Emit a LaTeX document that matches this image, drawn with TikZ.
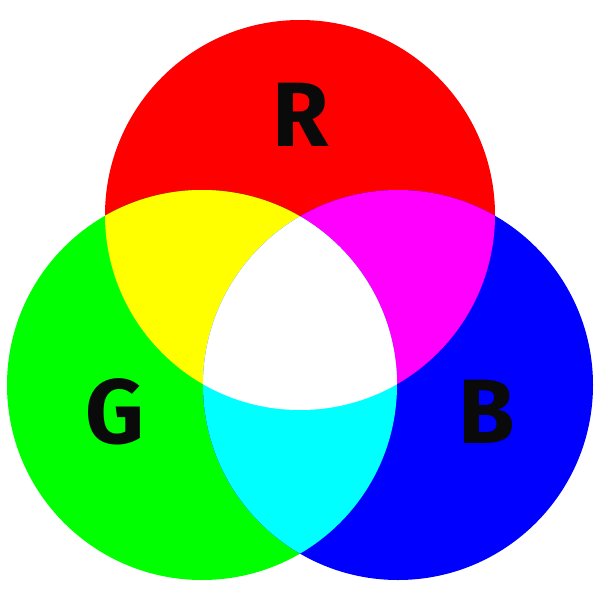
\documentclass[tikz,border=0pt]{standalone}
\usepackage{fontspec}
\setsansfont{Fira Sans}
\begin{document}
\begin{tikzpicture}[x=0.01cm,y=-0.01cm,lab/.style={font=\sffamily\bfseries\fontsize{26}{26}\selectfont,text={rgb,255:red,10;green,10;blue,10}}]
\definecolor{cmag}{RGB}{255,0,255}
\definecolor{ccyan}{RGB}{0,255,255}
\definecolor{cyel}{RGB}{255,255,0}
\definecolor{cred}{RGB}{255,0,0}
\definecolor{cgreen}{RGB}{0,255,0}
\definecolor{cblue}{RGB}{0,0,255}
\useasboundingbox (0,0) rectangle (600,600);
\fill[white] (0,0) rectangle (600,600);
\def\Rc{(300,215) circle[radius=195]}
\def\Gc{(202,385) circle[radius=195]}
\def\Bc{(398,385) circle[radius=195]}
\fill[cred] \Rc; \fill[cgreen] \Gc; \fill[cblue] \Bc;
\begin{scope}\clip \Rc; \fill[cyel] \Gc; \end{scope}
\begin{scope}\clip \Rc; \fill[cmag] \Bc; \end{scope}
\begin{scope}\clip \Gc; \fill[ccyan] \Bc; \end{scope}
\begin{scope}\clip \Rc; \clip \Gc; \fill[white] \Bc; \end{scope}
\node[lab] (r) at (301,115) {R};
\node[lab] (g) at (115,412) {G};
\node[lab] (b) at (487,412) {B};
\end{tikzpicture}
\end{document}
